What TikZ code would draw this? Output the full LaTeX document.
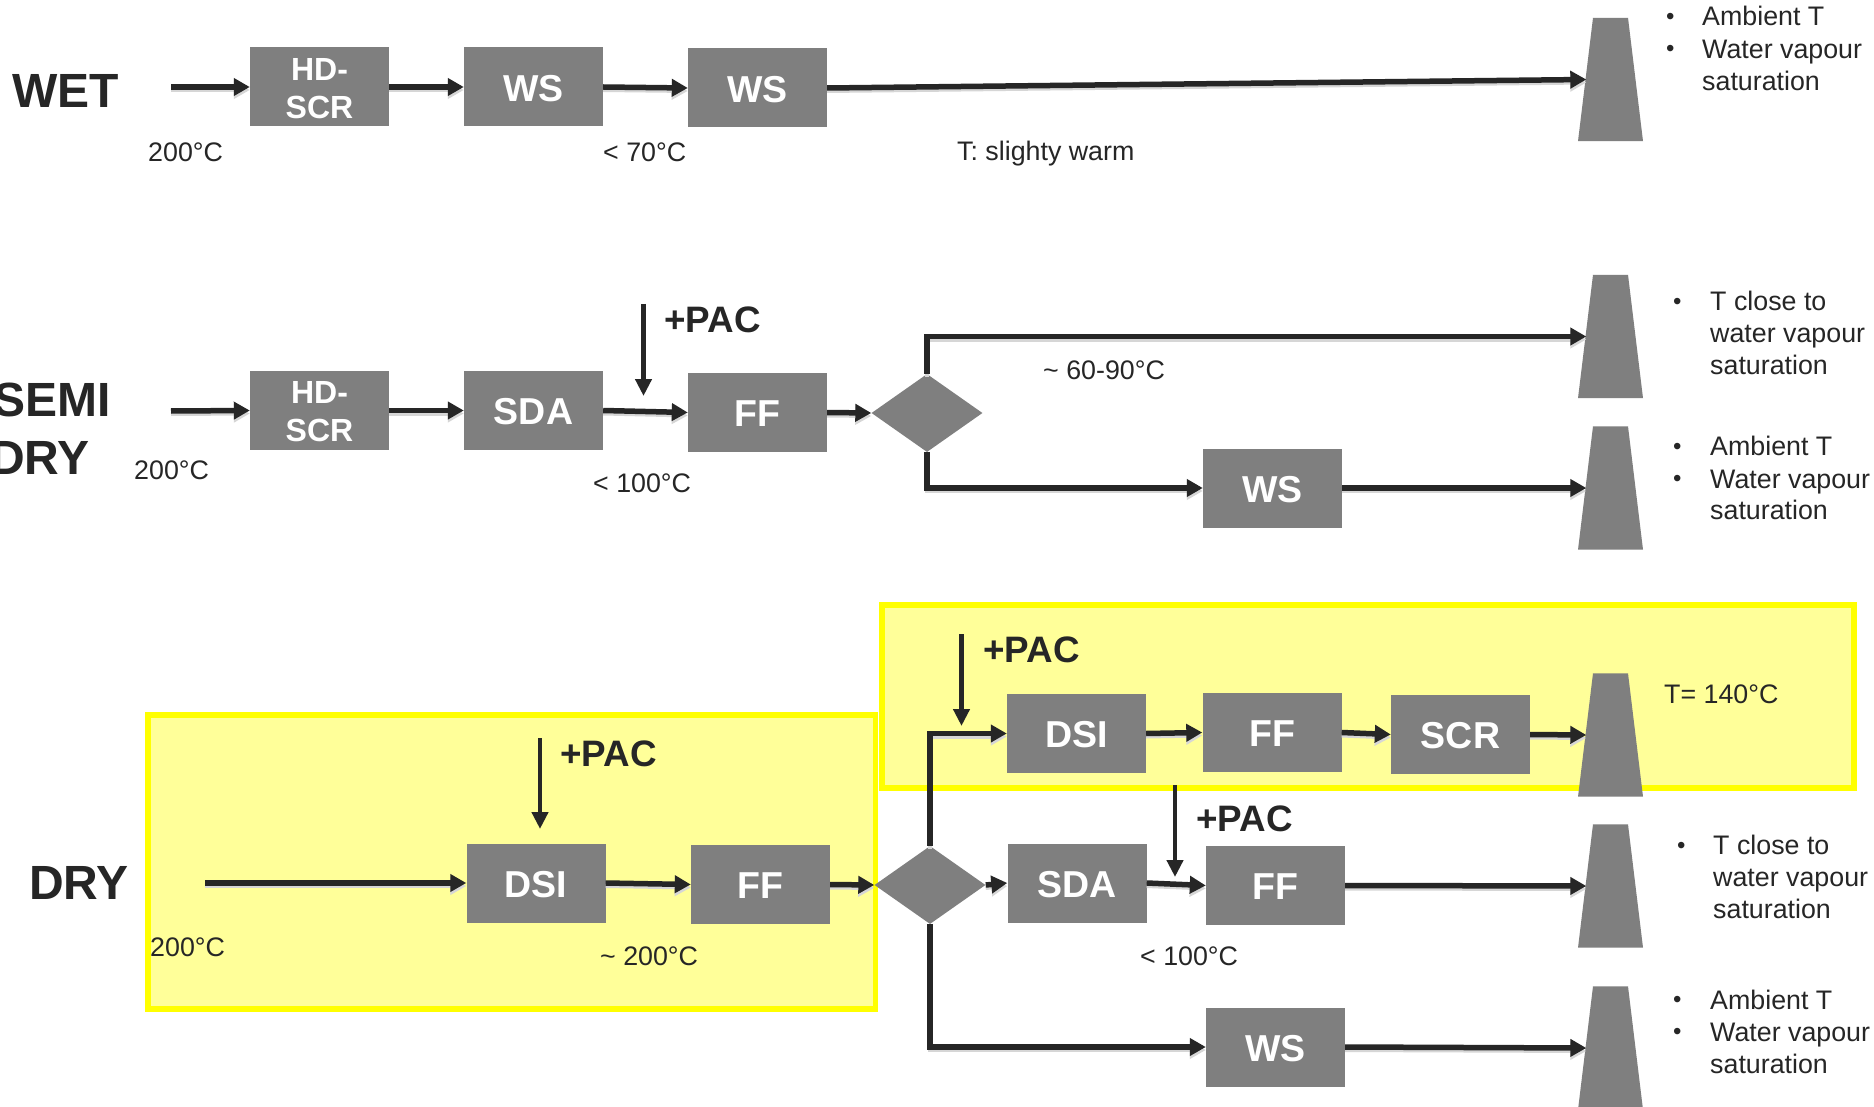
\documentclass[tikz,border=0pt]{standalone}
\usepackage{fontspec}
\setmainfont{Liberation Sans}
\usetikzlibrary{shapes.geometric,arrows.meta,positioning}
\definecolor{ink}{HTML}{262626}
\definecolor{boxgray}{HTML}{7F7F7F}
\definecolor{zoneline}{HTML}{FFFF00}
\definecolor{zonefill}{HTML}{FFFF99}
\tikzset{
  unitbox/.style={fill=boxgray,draw=none,inner sep=0pt,minimum width=139pt,minimum height=79pt,xshift=0.5pt,
    text=white,align=center,font=\bfseries\fontsize{37.5}{38}\selectfont},
  smallbox/.style={unitbox,font=\bfseries\fontsize{32}{38}\selectfont},
  stackframe/.style={draw=none,inner sep=0pt,minimum width=48pt,minimum height=123pt},
  split/.style={diamond,fill=boxgray,draw=none,inner sep=0pt,minimum width=111pt,minimum height=78pt},
  conn/.style={draw=ink,line width=5.5pt,-{Triangle[length=16pt,width=17pt]},
    preaction={draw=black!16,line width=4pt,transform canvas={yshift=-3pt}}},
  feed/.style={draw=ink,line width=4.5pt,-{Triangle[length=17pt,width=16pt]}},
  zone/.style={draw=zoneline,fill=zonefill,line width=5.5pt},
  rowlabel/.style={anchor=base west,inner sep=0pt,text=ink,font=\bfseries\fontsize{48}{48}\selectfont},
  paclabel/.style={anchor=base west,inner sep=0pt,text=ink,font=\bfseries\fontsize{36.8}{37}\selectfont},
  note/.style={anchor=base west,inner sep=0pt,text=ink,font=\fontsize{26.8}{32}\selectfont},
  dotmark/.style={note,font=\fontsize{24}{32}\selectfont},
}
\newcommand{\stackat}[3]{%
  \node[stackframe] (#1) at (#2,#3) {};
  \fill[boxgray] ([xshift=-17.5pt]#1.north) -- ([xshift=17.5pt]#1.north)
     -- ([xshift=32.5pt]#1.south) -- ([xshift=-32.5pt]#1.south) -- cycle;
}
\newcommand{\rb}[1]{\raisebox{-1.2pt}[\height][\depth]{#1}}
\begin{document}
\begin{tikzpicture}[x=1pt,y=-1pt]
\useasboundingbox (0,0) rectangle (1874,1107);
\clip (0,0) rectangle (1874,1107);
\fill[white] (0,0) rectangle (1874,1107);

% highlighted zones
\path[zone] (148,715) rectangle (875.5,1009);
\path[zone] (882,605) rectangle (1854,788);

% WET
\node[rowlabel] (wetlabel) at (12,108) {WET};
\node[smallbox] (w1) at (319,87) {\rb{HD-}\\\rb{SCR}};
\node[unitbox] (w2) at (533,87) {\rb{WS}};
\node[unitbox] (w3) at (757,88) {\rb{WS}};
\stackat{ws}{1610.5}{79.5}
\coordinate (wstart) at (171,87);
\draw[conn] (wstart) -- (w1.west);
\draw[conn] (w1.east) -- (w2.west);
\draw[conn] (w2.east) -- (w3.west);
\draw[conn] (w3.east) -- (ws.west);
\node[note] (wt1) at (148,162) {200°C};
\node[note] (wt2) at (603,162) {< 70°C};
\node[note] (wt3) at (957,161) {T: slighty warm};
\node[dotmark] (wb1) at (1666,25) {•};
\node[dotmark] (wb2) at (1666,57) {•};
\node[note] (wl1) at (1702,26) {Ambient T};
\node[note] (wl2) at (1702,59) {Water vapour};
\node[note] (wl3) at (1702,91) {saturation};

% SEMI DRY
\node[rowlabel] (slabel1) at (-7,416) {SEMI};
\node[rowlabel] (slabel2) at (-10,474) {DRY};
\node[smallbox] (s1) at (319,410.5) {\rb{HD-}\\\rb{SCR}};
\node[unitbox] (s2) at (533,410.5) {\rb{SDA}};
\node[unitbox] (s3) at (757,412.5) {\rb{FF}};
\node[split] (sd) at (927,413) {};
\node[unitbox] (s4) at (1272,488) {\rb{WS}};
\stackat{ss1}{1610.5}{336.5}
\stackat{ss2}{1610.5}{488}
\coordinate (sstart) at (171,411);
\coordinate (sfeedtop) at (643.5,304);
\coordinate (sfeedend) at (643.5,396);
\draw[conn] (sstart) -- (s1.west);
\draw[conn] (s1.east) -- (s2.west);
\draw[conn] (s2.east) -- (s3.west);
\draw[conn] (s3.east) -- (sd.west);
\draw[conn] (sd.north) |- (ss1.west);
\draw[conn] (sd.south) |- (s4.west);
\draw[conn] (s4.east) -- (ss2.west);
\draw[feed] (sfeedtop) -- (sfeedend);
\node[paclabel] (spac) at (664,333) {+PAC};
\node[note] (st1) at (134,479) {200°C};
\node[note] (st2) at (593,492) {< 100°C};
\node[note] (st3) at (1043,379) {\textasciitilde{} 60-90°C};
\node[dotmark] (sb1) at (1673,309) {•};
\node[note] (sl1) at (1710,311) {T close to};
\node[note] (sl2) at (1710,342) {water vapour};
\node[note] (sl3) at (1710,374) {saturation};
\node[dotmark] (sb2) at (1673,454) {•};
\node[dotmark] (sb3) at (1673,486) {•};
\node[note] (sl4) at (1710,455) {Ambient T};
\node[note] (sl5) at (1710,488) {Water vapour};
\node[note] (sl6) at (1710,519) {saturation};

% DRY
\node[rowlabel] (dlabel) at (29,899) {DRY};
\node[unitbox] (d1) at (535.5,883) {\rb{DSI}};
\node[unitbox] (d2) at (760,884.5) {\rb{FF}};
\node[split] (dd) at (930,885) {};
\node[unitbox] (d3) at (1076,733.5) {\rb{DSI}};
\node[unitbox] (d4) at (1271.5,732.5) {\rb{FF}};
\node[unitbox] (d5) at (1460,734.5) {\rb{SCR}};
\node[unitbox] (d6) at (1076.5,883) {\rb{SDA}};
\node[unitbox] (d7) at (1275,885.5) {\rb{FF}};
\node[unitbox] (d8) at (1275,1047) {\rb{WS}};
\stackat{ds1}{1610.5}{735}
\stackat{ds2}{1610.5}{886}
\stackat{ds3}{1610.5}{1048}
\coordinate (dstart) at (205,883);
\coordinate (dfeed1a) at (540,738);
\coordinate (dfeed1b) at (540,829);
\coordinate (dfeed2a) at (961.5,634);
\coordinate (dfeed2b) at (961.5,726);
\coordinate (dfeed3a) at (1175,785);
\coordinate (dfeed3b) at (1175,877);
\draw[conn] (dstart) -- (d1.west);
\draw[conn] (d1.east) -- (d2.west);
\draw[conn] (d2.east) -- (dd.west);
\draw[conn] (dd.north) |- (d3.west);
\draw[conn] (d3.east) -- (d4.west);
\draw[conn] (d4.east) -- (d5.west);
\draw[conn] (d5.east) -- (ds1.west);
\draw[conn] (dd.east) -- (d6.west);
\draw[conn] (d6.east) -- (d7.west);
\draw[conn] (d7.east) -- (ds2.west);
\draw[conn] (dd.south) |- (d8.west);
\draw[conn] (d8.east) -- (ds3.west);
\draw[feed] (dfeed1a) -- (dfeed1b);
\draw[feed] (dfeed2a) -- (dfeed2b);
\draw[feed] (dfeed3a) -- (dfeed3b);
\node[paclabel] (dpac1) at (560,766) {+PAC};
\node[paclabel] (dpac2) at (983,662) {+PAC};
\node[paclabel] (dpac3) at (1196,831) {+PAC};
\node[note] (dt1) at (150,956) {200°C};
\node[note] (dt2) at (600,965) {\textasciitilde{} 200°C};
\node[note] (dt3) at (1140,965) {< 100°C};
\node[note] (dt4) at (1664,703) {T= 140°C};
\node[dotmark] (db1) at (1677,853) {•};
\node[note] (dl1) at (1713,854) {T close to};
\node[note] (dl2) at (1713,886) {water vapour};
\node[note] (dl3) at (1713,918) {saturation};
\node[dotmark] (db2) at (1673,1007) {•};
\node[dotmark] (db3) at (1673,1039) {•};
\node[note] (dl4) at (1710,1009) {Ambient T};
\node[note] (dl5) at (1710,1041) {Water vapour};
\node[note] (dl6) at (1710,1073) {saturation};
\end{tikzpicture}
\end{document}
